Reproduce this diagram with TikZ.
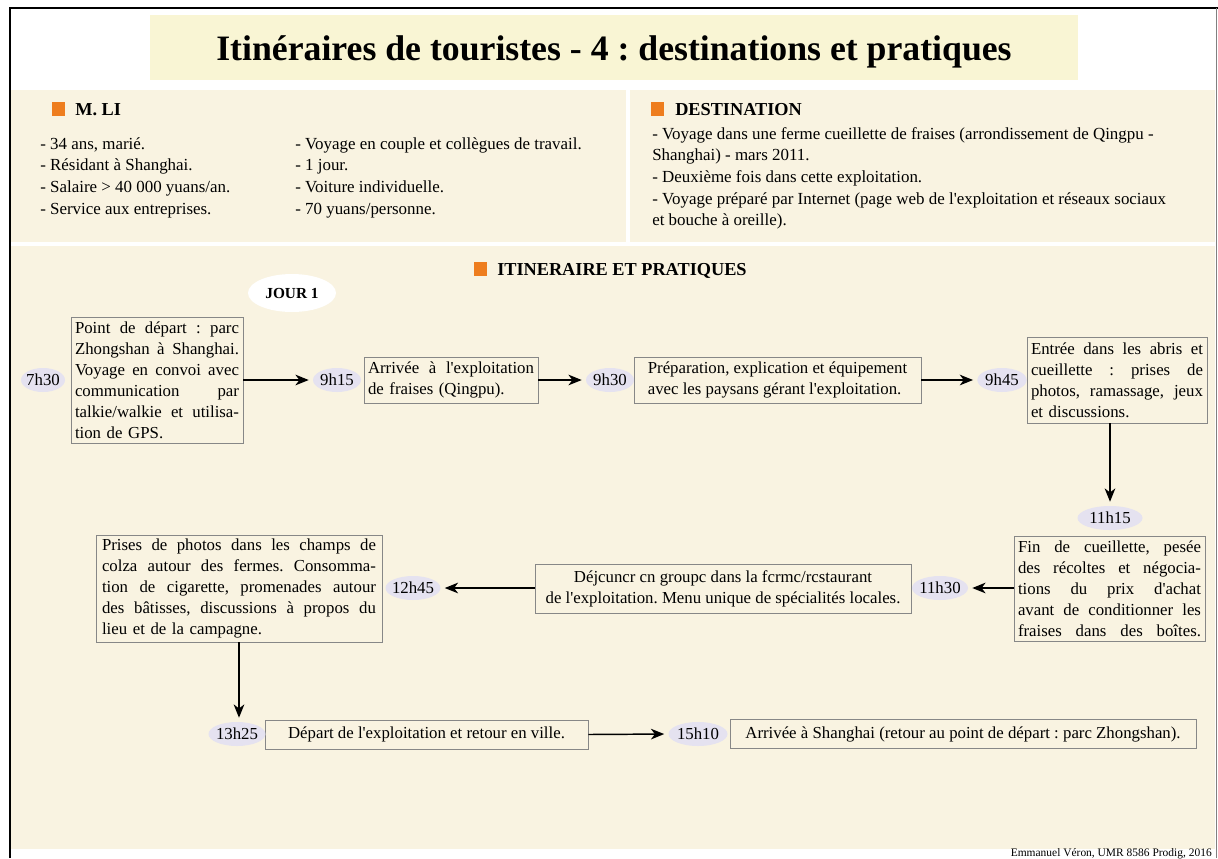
\documentclass[tikz,border=0pt]{standalone}
\usepackage{fontspec}
\setmainfont{Liberation Serif}[Ligatures=TeXOff]
\usetikzlibrary{shapes.geometric,arrows.meta}
\definecolor{cream}{RGB}{249,243,225}
\definecolor{titlefill}{RGB}{249,245,212}
\definecolor{orangesq}{RGB}{238,125,30}
\definecolor{lav}{RGB}{229,226,240}
\definecolor{bordergray}{RGB}{135,135,135}
\newcommand\jl[1]{\leavevmode\hbox to \hsize{\spaceskip=0.25em plus 3em minus 0.08em\xspaceskip=\spaceskip #1}}
\frenchspacing
\begin{document}
\begin{tikzpicture}[x=0.75pt,y=-0.75pt,
  box/.style={draw=bordergray, line width=0.6pt, fill=cream, inner xsep=3pt, inner ysep=0pt, align=left, font=\fontsize{12.6}{15.75}\selectfont\frenchspacing},
  tl/.style={ellipse, fill=lav, inner sep=0pt, minimum height=18pt, font=\fontsize{12.6}{15}\selectfont},
  arr/.style={line width=1.1pt, -{Stealth[length=10pt,width=8pt,inset=3pt]}, shorten >=3pt},
  info/.style={anchor=north west, inner sep=0pt, align=left, font=\fontsize{12.7}{16.2}\selectfont\frenchspacing},
  head/.style={anchor=base west, inner sep=0pt, font=\fontsize{13.7}{16}\selectfont\bfseries},
]
\useasboundingbox (0,0) rectangle (1218,858);
\fill[white] (0,0) rectangle (1218,858);
% frame
\draw[line width=1.5pt] (9.5,858) -- (9.5,7.5) -- (1218,7.5);
\draw[gray, line width=0.75pt] (1216.5,7.5) -- (1216.5,858);
% title
\fill[titlefill] (150,15) rectangle (1078,80);
\node[anchor=base, inner sep=0pt, font=\fontsize{26.8}{32}\selectfont\bfseries] (title) at (614,60) {Itinéraires de touristes - 4 : destinations et pratiques};
% panels
\fill[cream] (11,90) rectangle (626,242);
\fill[cream] (630,90) rectangle (1215,242);
\fill[cream] (11,246) rectangle (1215,849);
% headings
\fill[orangesq] (52,102) rectangle (65,116);
\node[head] (hli) at (75,115) {M. LI};
\fill[orangesq] (651,102) rectangle (664,116);
\node[head] (hdest) at (675,115) {DESTINATION};
\fill[orangesq] (474,262) rectangle (487,276);
\node[head] (hitin) at (497,275) {ITINERAIRE ET PRATIQUES};
% info texts
\node[info] (li1) at (40,134) {\strut- 34 ans, marié.\\- Résidant à Shanghai.\\- Salaire > 40 000 yuans/an.\\- Service aux entreprises.};
\node[info] (li2) at (295,134) {\strut- Voyage en couple et collègues de travail.\\- 1 jour.\\- Voiture individuelle.\\- 70 yuans/personne.};
\node[info] (dest) at (652,124) {\strut- Voyage dans une ferme cueillette de fraises (arrondissement de Qingpu -\\Shanghai) - mars 2011.\\- Deuxième fois dans cette exploitation.\\- Voyage préparé par Internet (page web de l'exploitation et réseaux sociaux\\et bouche à oreille).};
% jour 1
\node[ellipse, fill=white, minimum width=66pt, minimum height=28.5pt, inner sep=0pt, font=\fontsize{11.5}{14}\selectfont\bfseries] (jour) at (292,293) {\makebox[0pt]{JOUR 1}};
% boxes
\node[box, text width=123pt, minimum height=94.5pt] (b1) at (157,380) {\jl{Point de départ : parc}\\ \jl{Zhongshan à Shanghai.}\\ \jl{Voyage en convoi avec}\\ \jl{communication par}\\ \jl{talkie/walkie et utilisa-}\\ tion de GPS.};
\node[box, text width=124.5pt, minimum height=34.5pt] (b2) at (451,380) {\jl{Arrivée à  l'exploitation}\\ de fraises (Qingpu).};
\node[box, minimum width=215.25pt, minimum height=34.5pt] (b3) at (777.5,380) {Préparation, explication et équipement\\ avec les paysans gérant l'exploitation.};
\node[box, text width=129pt, minimum height=64.5pt] (b4) at (1117,380) {\jl{Entrée dans les abris et}\\ \jl{cueillette : prises de}\\ \jl{photos, ramassage, jeux}\\ et discussions.};
\node[box, text width=137.25pt, minimum height=78.75pt] (b5) at (1109.5,588.5) {\jl{Fin de cueillette, pesée}\\ \jl{des récoltes et négocia-}\\ \jl{tions du prix d'achat}\\ \jl{avant de conditionner les}\\ \jl{fraises dans des boîtes.}};
\node[box, align=center, minimum width=282pt, minimum height=36.75pt] (b6) at (723,588.5) {Déjcuncr cn groupc dans la fcrmc/rcstaurant\\ de l'exploitation. Menu unique de spécialités locales.};
\node[box, text width=205.5pt, inner xsep=4.5pt, minimum height=80.25pt] (b7) at (239,588.5) {\jl{Prises de photos dans les champs de}\\ \jl{colza autour des fermes. Consomma-}\\ \jl{tion de cigarette, promenades autour}\\ \jl{des bâtisses, discussions à propos du}\\ lieu et de la campagne.};
\node[box, align=center, minimum width=242.25pt, minimum height=21.75pt] (b8) at (426.5,734.5) {Départ de l'exploitation et retour en ville.};
\node[box, align=center, minimum width=349.5pt, minimum height=21.75pt] (b9) at (963,734) {Arrivée à Shanghai (retour au point de départ : parc Zhongshan).};
% time labels
\node[tl, minimum width=33pt] (t730) at (43,380) {\makebox[0pt]{7h30}};
\node[tl, minimum width=36pt] (t915) at (337,380) {\makebox[0pt]{9h15}};
\node[tl, minimum width=36pt] (t930) at (610,380) {\makebox[0pt]{9h30}};
\node[tl, minimum width=37pt] (t945) at (1002,380) {\makebox[0pt]{9h45}};
\node[tl, minimum width=48.75pt] (t1115) at (1110,518) {\makebox[0pt]{11h15}};
\node[tl, minimum width=42pt] (t1130) at (940,588) {\makebox[0pt]{11h30}};
\node[tl, minimum width=41.25pt] (t1245) at (413,588) {\makebox[0pt]{12h45}};
\node[tl, minimum width=42.75pt] (t1325) at (237,734) {\makebox[0pt]{13h25}};
\node[tl, minimum width=44.25pt] (t1510) at (698,734) {\makebox[0pt]{15h10}};
% connectors
\draw[arr] (b1.east) -- (t915.west);
\draw[arr] (b2.east) -- (t930.west);
\draw[arr] (b3.east) -- (t945.west);
\draw[arr] (b4.south -| t1115.north) -- (t1115.north);
\draw[arr] (b5.west |- t1130.east) -- (t1130.east);
\draw[arr] (b6.west |- t1245.east) -- (t1245.east);
\draw[arr] (b7.south) -- (b7.south |- t1325.north);
\draw[arr] (b8.east) -- (t1510.west);
% credit
\node[anchor=base east, inner sep=0pt, font=\fontsize{8.6}{10}\selectfont] (credit) at (1212,856) {Emmanuel Véron, UMR 8586 Prodig, 2016};
\end{tikzpicture}
\end{document}
